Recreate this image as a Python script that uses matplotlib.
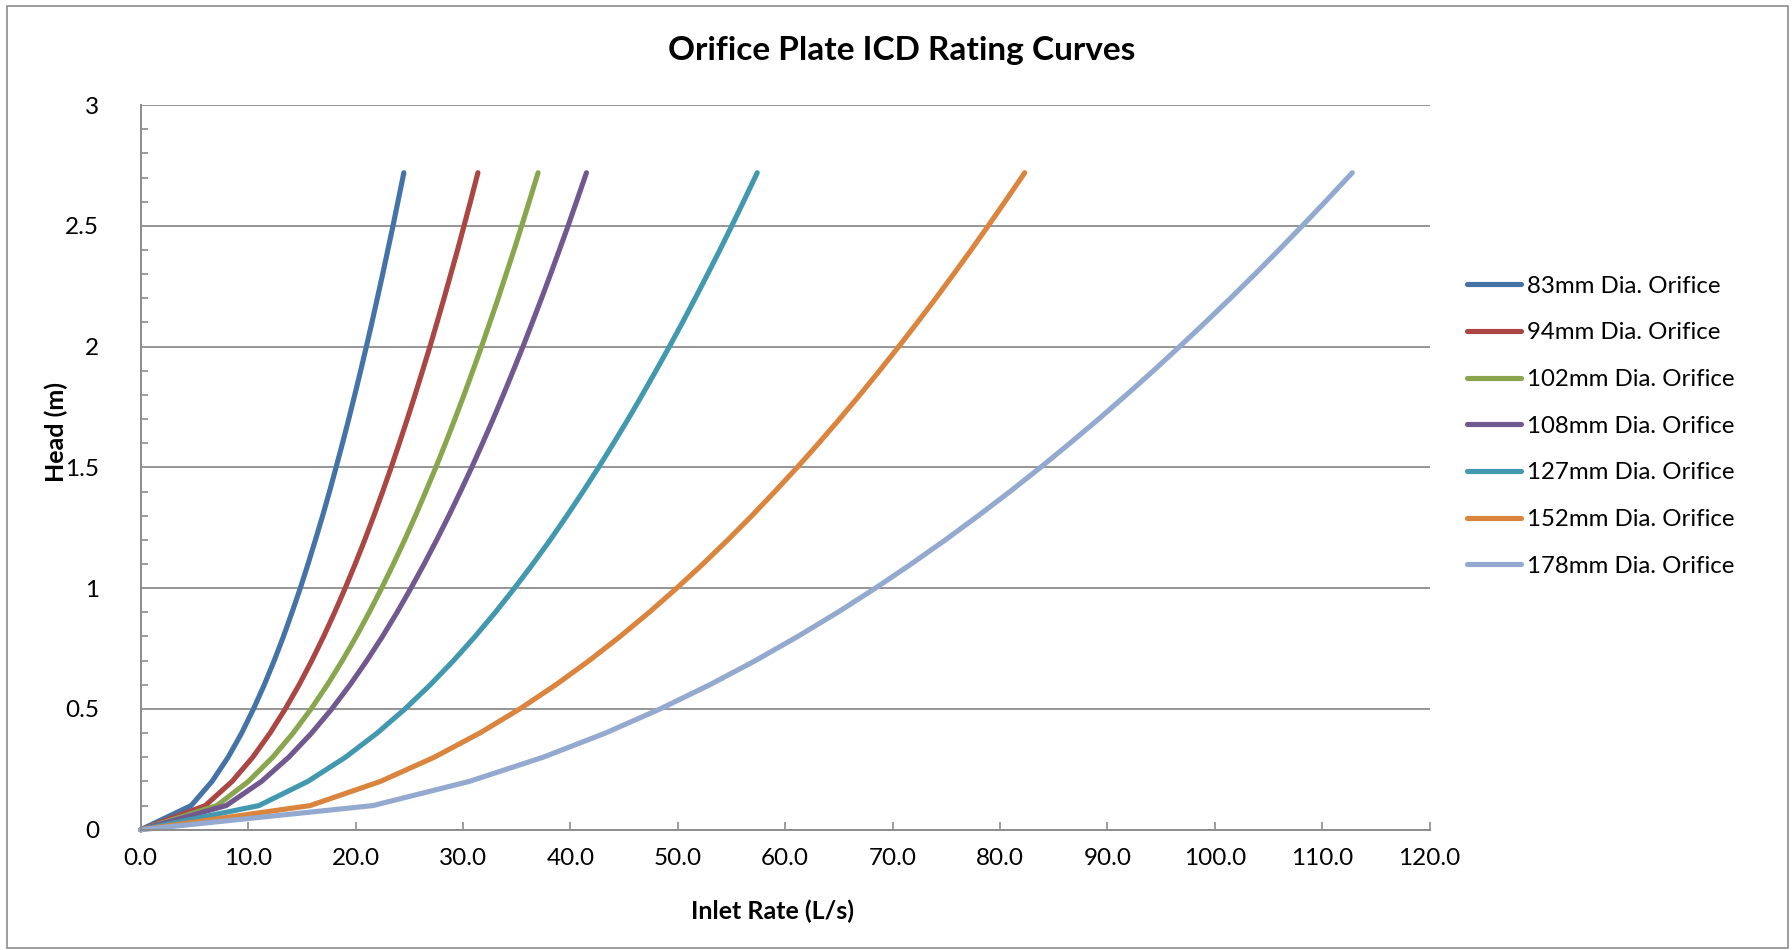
import matplotlib.pyplot as plt
from matplotlib.patches import Rectangle
from matplotlib.ticker import MultipleLocator, FormatStrFormatter

plt.rcParams['font.family'] = ['Lato', 'DejaVu Sans']

# Head values (m) shared by all curves
head = [0, 0.1, 0.2, 0.3, 0.4, 0.5, 0.6, 0.7, 0.8, 0.9, 1.0, 1.1, 1.2, 1.3, 1.4,
        1.5, 1.6, 1.7, 1.8, 1.9, 2.0, 2.1, 2.2, 2.3, 2.4, 2.5, 2.6, 2.7, 2.72]

# Inlet rate (L/s) for each orifice size
q83 = [0, 4.70, 6.64, 8.14, 9.40, 10.50, 11.51, 12.43, 13.29, 14.09, 14.86, 15.58,
       16.27, 16.94, 17.58, 18.19, 18.79, 19.37, 19.93, 20.48, 21.01, 21.53, 22.03,
       22.53, 23.01, 23.49, 23.95, 24.41, 24.5]
q94 = [0, 6.02, 8.51, 10.43, 12.04, 13.46, 14.75, 15.93, 17.03, 18.06, 19.04, 19.97,
       20.86, 21.71, 22.53, 23.32, 24.08, 24.82, 25.54, 26.24, 26.93, 27.59, 28.24,
       28.87, 29.50, 30.10, 30.70, 31.28, 31.4]
q102 = [0, 7.09, 10.03, 12.29, 14.19, 15.86, 17.38, 18.77, 20.07, 21.28, 22.43, 23.53,
        24.58, 25.58, 26.54, 27.48, 28.38, 29.25, 30.10, 30.92, 31.73, 32.51, 33.28,
        34.02, 34.76, 35.47, 36.17, 36.86, 37.0]
q108 = [0, 7.96, 11.25, 13.78, 15.91, 17.79, 19.49, 21.05, 22.51, 23.87, 25.16, 26.39,
        27.56, 28.69, 29.77, 30.82, 31.83, 32.81, 33.76, 34.68, 35.59, 36.46, 37.32,
        38.16, 38.98, 39.79, 40.57, 41.35, 41.5]
q127 = [0, 11.01, 15.56, 19.06, 22.01, 24.61, 26.96, 29.12, 31.13, 33.02, 34.80, 36.50,
        38.13, 39.68, 41.18, 42.63, 44.02, 45.38, 46.69, 47.97, 49.22, 50.44, 51.62,
        52.78, 53.92, 55.03, 56.12, 57.19, 57.4]
q152 = [0, 15.78, 22.32, 27.33, 31.56, 35.29, 38.65, 41.75, 44.63, 47.34, 49.90, 52.34,
        54.66, 56.90, 59.04, 61.12, 63.12, 65.06, 66.95, 68.78, 70.57, 72.31, 74.02,
        75.68, 77.31, 78.90, 80.46, 82.00, 82.3]
q178 = [0, 21.63, 30.59, 37.46, 43.26, 48.36, 52.98, 57.22, 61.17, 64.89, 68.40, 71.73,
        74.92, 77.98, 80.93, 83.77, 86.51, 89.18, 91.76, 94.28, 96.72, 99.11, 101.45,
        103.73, 105.96, 108.14, 110.28, 112.38, 112.8]

labels = ['83mm Dia. Orifice', '94mm Dia. Orifice', '102mm Dia. Orifice',
          '108mm Dia. Orifice', '127mm Dia. Orifice', '152mm Dia. Orifice',
          '178mm Dia. Orifice']
series = [q83, q94, q102, q108, q127, q152, q178]
colors = ['#4572A7', '#AA4643', '#89A54E', '#71588F', '#4198AF', '#DB843D', '#93A9CF']

fig = plt.figure(figsize=(17.92, 9.5), dpi=100)
ax = fig.add_axes([0.0785, 0.1266, 0.7193, 0.7628])

# chart border
fig.patches.append(Rectangle((0.004, 0.002), 0.994, 0.992, transform=fig.transFigure,
                             fill=False, edgecolor='#8c8c8c', linewidth=1.2))

for q, lab, c in zip(series, labels, colors):
    ax.plot(q, head, color=c, linewidth=3.7, label=lab, solid_capstyle='round',
            solid_joinstyle='round', clip_on=False)

ax.set_xlim(0, 120)
ax.set_ylim(0, 3)
ax.xaxis.set_major_locator(MultipleLocator(10))
ax.xaxis.set_major_formatter(FormatStrFormatter('%.1f'))
ax.yaxis.set_minor_locator(MultipleLocator(0.1))
ax.set_yticks([0, 0.5, 1, 1.5, 2, 2.5, 3])
ax.set_yticklabels(['0', '0.5', '1', '1.5', '2', '2.5', '3'])

for s in ['top', 'right']:
    ax.spines[s].set_visible(False)
for s in ['left', 'bottom']:
    ax.spines[s].set_color('#8c8c8c')
    ax.spines[s].set_linewidth(1.4)

ax.grid(axis='y', which='major', color='#8c8c8c', linewidth=1.3)
ax.set_axisbelow(True)
ax.tick_params(axis='x', which='major', direction='in', length=6, width=1.2,
               color='#8c8c8c', labelsize=17.5, pad=13)
ax.tick_params(axis='y', which='major', direction='in', length=0, labelsize=17.5, pad=30)
ax.tick_params(axis='y', which='minor', direction='in', length=5, width=1.2,
               color='#8c8c8c')

fig.text(0.431, 1 - 911 / 950, 'Inlet Rate (L/s)', fontsize=18, fontweight='bold',
         ha='center', va='center')
fig.text(56 / 1792, 1 - 432 / 950, 'Head (m)', fontsize=18, fontweight='bold',
         ha='center', va='center', rotation=90)
fig.text(0.503, 0.947, 'Orifice Plate ICD Rating Curves', fontsize=24,
         fontweight='bold', ha='center', va='center')

ax.legend(loc='upper left', bbox_to_anchor=(0.813, 0.72), bbox_transform=fig.transFigure,
          frameon=False, fontsize=17.3, handlelength=2.25, handletextpad=0.25,
          labelspacing=1.07, borderaxespad=0)

plt.savefig('out.png', dpi=100)
